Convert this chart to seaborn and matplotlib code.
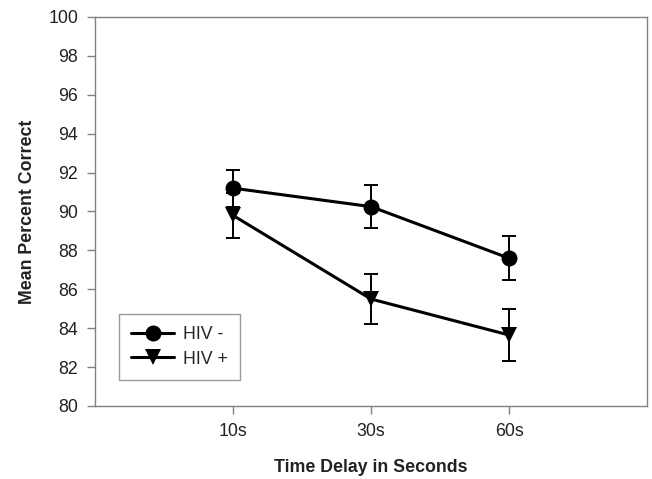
import numpy as np
import pandas as pd
import matplotlib
matplotlib.use("Agg")
import matplotlib.pyplot as plt
import seaborn as sns

delays = ["10s", "30s", "60s"]
hiv_neg = [91.2, 90.25, 87.6]
hiv_neg_err = [0.95, 1.1, 1.12]
hiv_pos = [89.8, 85.5, 83.65]
hiv_pos_err = [1.15, 1.27, 1.35]
groups = ["HIV -", "HIV +"]

sns.set_style("white")
plt.rcParams['font.family'] = ['Liberation Sans', 'DejaVu Sans']

pos = np.arange(len(delays))
df = pd.DataFrame({
    "x": np.concatenate([pos, pos]),
    "y": hiv_neg + hiv_pos,
    "group": [groups[0]] * 3 + [groups[1]] * 3,
})

fig = plt.figure(figsize=(6.52, 4.79), dpi=100)
ax = fig.add_axes([95 / 652, 1 - 406 / 479, (647 - 95) / 652, (406 - 17) / 479])

for vals, errs in [(hiv_neg, hiv_neg_err), (hiv_pos, hiv_pos_err)]:
    ax.errorbar(pos, vals, yerr=errs, fmt="none", ecolor="black",
                elinewidth=1.4, capsize=4.7, capthick=1.4, zorder=2)

sns.lineplot(data=df, x="x", y="y", hue="group", style="group",
             palette={groups[0]: "black", groups[1]: "black"},
             markers={groups[0]: "o", groups[1]: "v"}, dashes=False,
             linewidth=2.2, markersize=11.5, markeredgewidth=0,
             ax=ax, zorder=3)

ax.set_xlim(-1, 3)
ax.set_ylim(80, 100)
ax.set_yticks(np.arange(80, 101, 2))
ax.set_xticks(pos)
ax.set_xticklabels(delays)
ax.tick_params(axis="both", bottom=True, left=True, direction="out", length=5.8,
               width=1, color="#808080", labelsize=12.8, labelcolor="#222222", pad=6.3)
for s in ax.spines.values():
    s.set_color("#808080")
    s.set_linewidth(1)
ax.set_xlabel("Time Delay in Seconds", fontsize=12.8, fontweight="bold", labelpad=14, color="#222222")
ax.set_ylabel("Mean Percent Correct", fontsize=12.8, fontweight="bold", labelpad=9, color="#222222")

leg = ax.legend(loc="lower left", bbox_to_anchor=(24 / 552, 26 / 389), frameon=True,
                fancybox=False, edgecolor="#808080", fontsize=12.8, handlelength=2.4,
                borderpad=0.7, labelspacing=0.4, handletextpad=0.5, borderaxespad=0)
leg.get_frame().set_linewidth(1)
leg.set_title(None)

fig.savefig("out.png", dpi=100)
